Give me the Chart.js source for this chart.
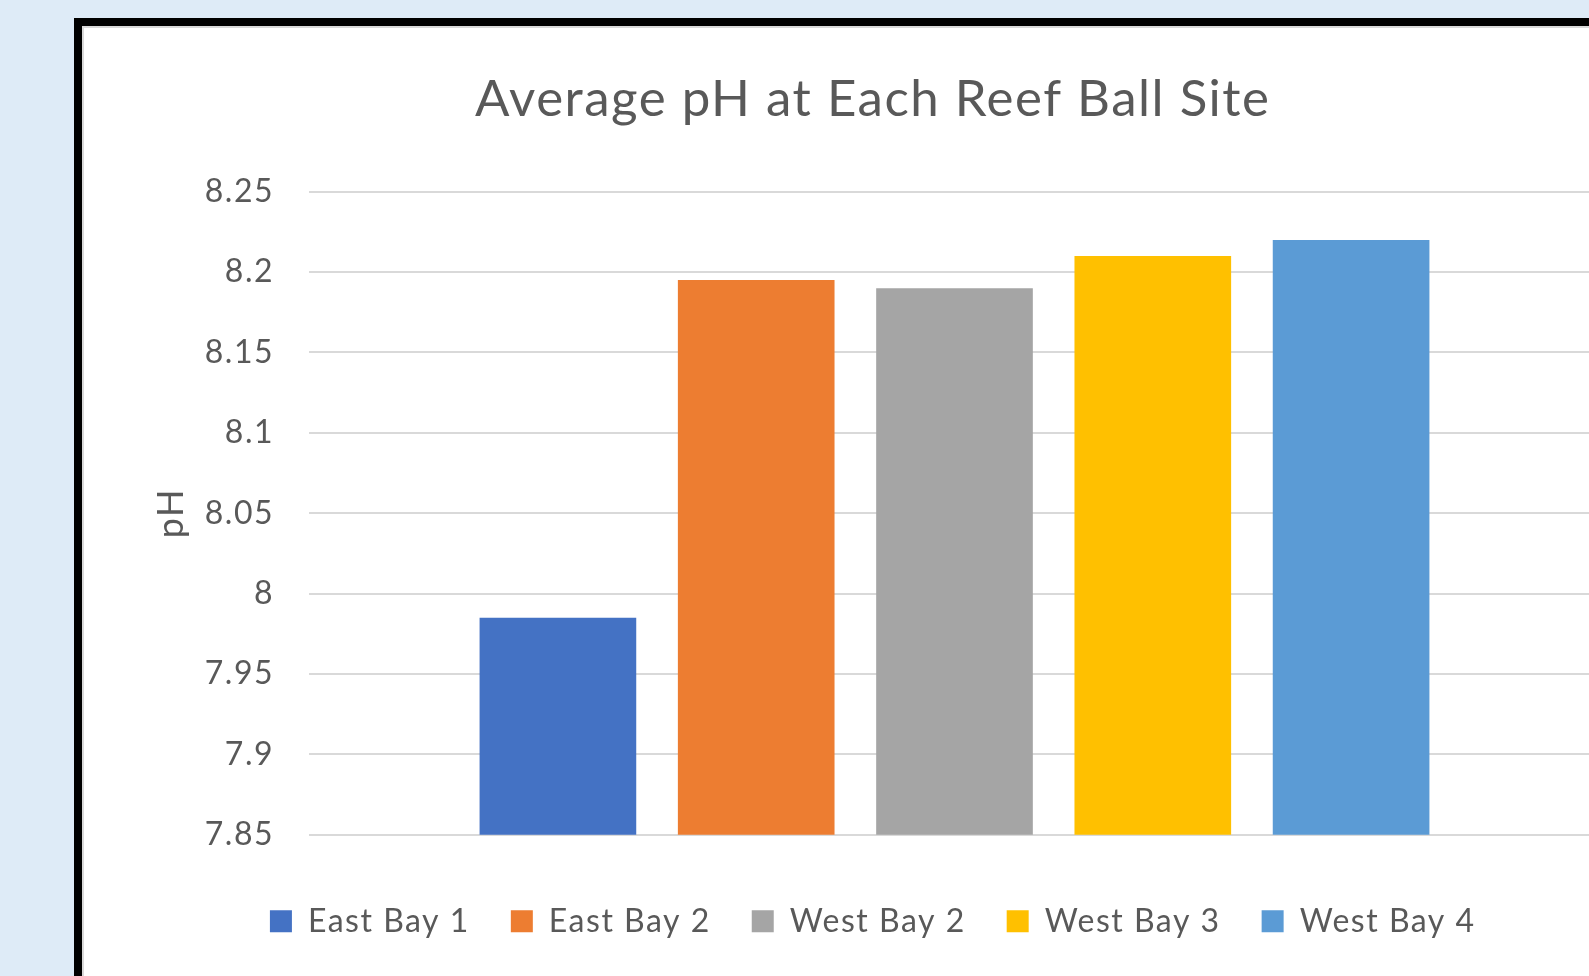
<!DOCTYPE html>
<html>
<head>
<meta charset="utf-8">
<title>Average pH at Each Reef Ball Site</title>
<script src="https://cdn.jsdelivr.net/npm/chart.js@4"></script>
<style>
  html, body {
    margin: 0;
    padding: 0;
    width: 1589px;
    height: 976px;
    overflow: hidden;
    background: #deebf7;
  }
  #frame {
    position: absolute;
    left: 74px;
    top: 18px;
    width: 1600px;
    height: 1000px;
    border: 8px solid #000;
    background: #fff;
  }
  #inner {
    position: absolute;
    left: 0;
    top: 0;
    right: 0;
    bottom: 0;
    border-left: 2px solid #d9d9d9;
    border-top: 2px solid #d9d9d9;
  }
  #chartBox {
    position: absolute;
    left: 85px;
    top: 29px;
    width: 1562px;
    height: 947px;
  }
</style>
</head>
<body>
<div id="frame"><div id="inner"></div></div>
<div id="chartBox"><canvas id="phChart"></canvas></div>
<script>
  // one category, one bar per reef ball site
  const categories = [""];
  const sites = ["East Bay 1", "East Bay 2", "West Bay 2", "West Bay 3", "West Bay 4"];
  const avgPh = [7.985, 8.195, 8.19, 8.21, 8.22];
  const siteColors = ["#4472c4", "#ed7d31", "#a5a5a5", "#ffc000", "#5b9bd5"];

  const yMin = 7.85;
  const yMax = 8.25;
  const yStep = 0.05;

  const textColor = "#595959";
  const font = "Lato, 'Open Sans', sans-serif";

  // a little extra tracking on all canvas text (reset whenever the canvas resizes)
  const tracking = {
    id: "tracking",
    beforeUpdate: (chart) => {
      chart.ctx.letterSpacing = "1.5px";
    },
    beforeDraw: (chart) => {
      chart.ctx.letterSpacing = "1.5px";
    },
  };

  document.addEventListener("DOMContentLoaded", () => {
    const ctx = document.getElementById("phChart").getContext("2d");

    const data = {
      labels: categories,
      datasets: sites.map((name, i) => ({
        label: name,
        data: [avgPh[i]],
        backgroundColor: siteColors[i],
        borderWidth: 0,
        categoryPercentage: 0.768,
        barPercentage: 0.79,
      })),
    };

    const config = {
      type: "bar",
      data: data,
      plugins: [tracking],
      options: {
        responsive: true,
        maintainAspectRatio: false,
        animation: false,
        layout: {
          padding: { left: 60.5, right: 47, top: 0, bottom: 28.8 },
        },
        plugins: {
          title: {
            display: true,
            text: "Average pH at Each Reef Ball Site",
            color: textColor,
            font: { family: font, size: 51, weight: "normal" },
            padding: { top: 39.6, bottom: 61.9 },
          },
          legend: {
            position: "bottom",
            labels: {
              color: textColor,
              font: { family: font, size: 32 },
              boxWidth: 22,
              boxHeight: 22,
              padding: 41,
            },
          },
          tooltip: { enabled: false },
        },
        scales: {
          x: {
            grid: { display: false },
            border: { display: false },
            ticks: { display: false },
            afterFit: (scale) => {
              scale.height = 29.5;
            },
          },
          y: {
            min: yMin,
            max: yMax,
            border: { display: false },
            grid: {
              color: "#d9d9d9",
              lineWidth: 2,
              drawTicks: false,
            },
            ticks: {
              stepSize: yStep,
              padding: 35,
              color: textColor,
              font: { family: font, size: 32 },
              callback: (v) => String(Number(v.toFixed(2))),
            },
            title: {
              display: true,
              text: "pH",
              color: textColor,
              font: { family: font, size: 36 },
            },
            afterFit: (scale) => {
              scale.width = 163.5;
            },
          },
        },
      },
    };

    new Chart(ctx, config);
  });
</script>
</body>
</html>
